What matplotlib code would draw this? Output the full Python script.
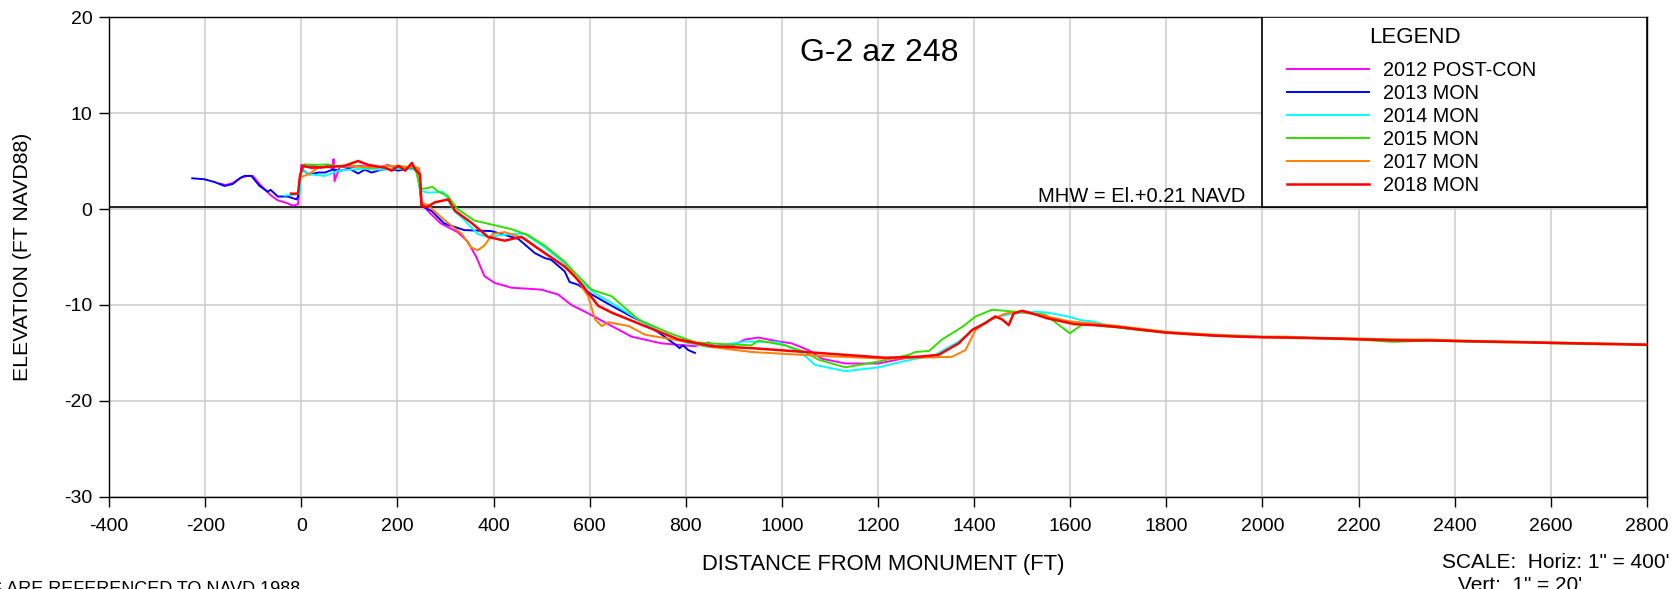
import matplotlib.pyplot as plt
from matplotlib.patches import Rectangle

plt.rcParams['font.family'] = ['Liberation Sans', 'DejaVu Sans']
plt.rcParams['axes.unicode_minus'] = False

# Survey profiles, distance from monument (ft) vs elevation (ft NAVD88)
x_2012 = [-170, -157, -143, -125, -111, -101, -87, -63, -49, -35, -17, -7, -3, 0, 10, 25, 40, 55, 65, 67,
          69, 80, 100, 120, 140, 160, 180, 200, 215, 230, 245, 250, 263, 290, 325, 346, 364, 381, 402, 437,
          499, 534, 562, 590, 646, 687, 749, 819, 847, 860, 895, 923, 951, 993, 1020, 1055, 1083, 1132, 1201, 1250,
          1280]
z_2012 = [2.65, 2.5, 2.7, 3.3, 3.45, 3.45, 2.6, 1.4, 0.9, 0.7, 0.35, 0.5, 2.5, 4.6, 4.4, 4.5, 4.3, 4.5, 4.2, 5.2,
          2.9, 4.4, 4.3, 4.5, 4.4, 4.3, 4.6, 4.2, 4.4, 4.3, 4.2, 0.7, -0.2, -1.5, -2.4, -3.4, -5.0, -7.0, -7.7, -8.2,
          -8.4, -8.9, -10.0, -10.7, -12.2, -13.3, -14.0, -14.3, -13.9, -14.3, -14.3, -13.6, -13.4, -13.8, -14.0, -14.7, -15.6, -16.1, -16.1, -15.6,
          -15.4]

x_2013 = [-227, -202, -180, -160, -143, -128, -118, -104, -87, -70, -64, -49, -28, -10, -7, 0, 17, 35, 49, 65,
          83, 100, 118, 132, 146, 167, 185, 202, 220, 230, 240, 247, 250, 271, 297, 339, 395, 451, 486, 506,
          520, 548, 558, 576, 604, 646, 687, 715, 750, 780, 787, 794, 805, 819]
z_2013 = [3.2, 3.1, 2.8, 2.4, 2.6, 3.2, 3.45, 3.45, 2.4, 1.8, 2.0, 1.3, 1.3, 1.0, 1.3, 4.1, 3.6, 3.8, 3.8, 4.1,
          4.0, 4.2, 3.7, 4.1, 3.8, 4.1, 4.2, 4.0, 4.2, 4.3, 4.0, 2.2, 0.3, -0.2, -1.5, -2.2, -2.3, -3.1, -4.6, -5.1,
          -5.3, -6.5, -7.6, -7.9, -8.9, -10.1, -11.2, -11.9, -13.1, -14.2, -14.5, -14.2, -14.7, -15.0]

x_2014 = [-35, -14, -3, 0, 21, 49, 77, 100, 130, 160, 200, 240, 247, 264, 295, 306, 318, 334, 367, 388,
          437, 465, 506, 548, 576, 611, 646, 701, 750, 799, 848, 924, 994, 1041, 1069, 1132, 1201, 1250, 1319, 1368,
          1403, 1437, 1479, 1528, 1553, 1595, 1623, 1644, 1693, 1750, 1800, 1850, 1900, 1950, 2000, 2050, 2100, 2150, 2200, 2250,
          2300, 2350, 2400, 2450, 2500, 2550, 2600, 2650, 2700, 2750, 2800]
z_2014 = [1.4, 1.5, 1.6, 4.0, 3.6, 3.45, 4.0, 4.1, 4.2, 4.1, 4.2, 4.1, 1.9, 1.7, 1.8, 0.9, -0.2, -0.9, -2.6, -2.9,
          -2.6, -2.6, -4.0, -5.7, -7.4, -8.8, -9.8, -11.5, -12.9, -13.9, -14.4, -13.8, -13.9, -15.0, -16.25, -16.9, -16.5, -15.9, -15.2, -13.8,
          -12.4, -11.4, -10.9, -10.7, -10.8, -11.2, -11.6, -11.7, -12.3, -12.6, -12.85, -13.0, -13.15, -13.2, -13.3, -13.35, -13.4, -13.45, -13.55, -13.6,
          -13.7, -13.65, -13.75, -13.8, -13.85, -13.85, -13.95, -14.0, -14.05, -14.05, -14.1]

x_2015 = [2, 7, 30, 56, 80, 110, 140, 170, 200, 237, 247, 254, 273, 285, 304, 325, 360, 437, 471, 506,
          548, 576, 604, 646, 701, 764, 820, 882, 937, 951, 1006, 1048, 1076, 1132, 1201, 1264, 1278, 1306, 1333, 1375,
          1403, 1437, 1486, 1548, 1599, 1623, 1650, 1700, 1750, 1800, 1850, 1900, 1950, 2000, 2050, 2100, 2150, 2200, 2270, 2350,
          2400, 2450, 2500, 2550, 2600, 2650, 2700, 2750, 2800]
z_2015 = [4.0, 4.65, 4.6, 4.65, 4.4, 4.5, 4.3, 4.4, 4.5, 4.3, 2.2, 2.1, 2.3, 1.8, 1.4, 0.0, -1.2, -2.1, -2.7, -3.8,
          -5.5, -7.0, -8.4, -9.1, -11.5, -12.9, -13.9, -14.1, -14.2, -13.7, -14.2, -14.9, -15.7, -16.5, -15.9, -15.2, -14.9, -14.8, -13.6, -12.3,
          -11.2, -10.5, -10.7, -11.0, -12.95, -12.1, -12.1, -12.35, -12.65, -12.9, -13.05, -13.2, -13.3, -13.35, -13.4, -13.45, -13.55, -13.6, -13.85, -13.7,
          -13.8, -13.85, -13.9, -13.9, -14.0, -14.05, -14.1, -14.1, -14.2]

x_2017 = [3, 14, 35, 60, 90, 120, 150, 180, 210, 244, 250, 264, 299, 334, 353, 367, 381, 398, 423, 465,
          527, 562, 597, 611, 625, 639, 681, 715, 785, 855, 937, 1076, 1215, 1354, 1382, 1403, 1431, 1465, 1493, 1535,
          1597, 1650, 1700, 1750, 1800, 1850, 1900, 1950, 2000, 2050, 2100, 2150, 2200, 2250, 2300, 2350, 2400, 2450, 2500, 2550,
          2600, 2650, 2700, 2750, 2800]
z_2017 = [3.4, 3.6, 4.3, 4.4, 4.5, 4.4, 4.3, 4.5, 4.4, 4.3, 0.7, 0.35, -1.2, -2.6, -4.0, -4.3, -3.8, -2.6, -2.4, -3.1,
          -5.3, -6.5, -9.1, -11.5, -12.2, -11.8, -12.2, -13.1, -13.7, -14.4, -14.9, -15.3, -15.6, -15.4, -14.7, -12.6, -11.6, -10.9, -10.7, -11.0,
          -11.7, -11.95, -12.2, -12.5, -12.8, -12.95, -13.1, -13.2, -13.3, -13.3, -13.4, -13.45, -13.5, -13.55, -13.6, -13.6, -13.7, -13.75, -13.8, -13.85,
          -13.9, -13.95, -14.0, -14.05, -14.1]

x_2018 = [-21, -7, -3, 3, 21, 60, 90, 118, 139, 174, 188, 202, 216, 230, 237, 247, 250, 261, 278, 306,
          320, 353, 388, 423, 458, 492, 548, 576, 618, 646, 715, 785, 855, 937, 1076, 1215, 1284, 1326, 1368, 1396,
          1423, 1444, 1458, 1472, 1482, 1500, 1528, 1553, 1609, 1650, 1700, 1750, 1800, 1850, 1900, 1950, 2000, 2050, 2100, 2150,
          2200, 2250, 2300, 2350, 2400, 2450, 2500, 2550, 2600, 2650, 2700, 2750, 2800]
z_2018 = [1.6, 1.6, 3.4, 4.5, 4.3, 4.4, 4.5, 5.0, 4.6, 4.3, 4.0, 4.5, 4.0, 4.8, 4.1, 3.6, 0.3, 0.2, 0.7, 1.0,
          -0.2, -1.4, -2.9, -3.3, -2.9, -4.1, -6.0, -7.4, -10.1, -10.8, -12.2, -13.6, -14.3, -14.5, -15.0, -15.5, -15.4, -15.2, -14.0, -12.6,
          -11.9, -11.2, -11.5, -12.1, -10.9, -10.6, -11.0, -11.4, -12.0, -12.1, -12.3, -12.6, -12.88, -13.05, -13.2, -13.3, -13.37, -13.4, -13.45, -13.5,
          -13.58, -13.65, -13.7, -13.7, -13.75, -13.8, -13.85, -13.9, -13.95, -14.0, -14.05, -14.1, -14.15]

labels = ['2012 POST-CON', '2013 MON', '2014 MON', '2015 MON', '2017 MON', '2018 MON']
colors = ['#ff00ff', '#0000ff', '#00ffff', '#33dd00', '#ff8000', '#ff0000']
widths = [1.4, 1.4, 1.4, 1.4, 1.4, 1.8]

x_ticks = list(range(-400, 2801, 200))
y_ticks = [-30, -20, -10, 0, 10, 20]
MHW = 0.21

fig = plt.figure(figsize=(16.79, 5.89), dpi=100)
ax = fig.add_axes([0.0650, 0.1564, 0.9159, 0.8146])

ax.set_xlim(-400, 2800)
ax.set_ylim(-30, 20)
ax.set_xticks(x_ticks)
ax.set_yticks(y_ticks)
ax.grid(True, color='#cccccc', linewidth=1.1)
ax.set_axisbelow(True)
ax.tick_params(direction='out', length=7, width=1, labelsize=14)
ax.tick_params(axis='x', pad=8)
ax.tick_params(axis='y', pad=5)
for s in ax.spines.values():
    s.set_linewidth(1)

# MHW reference line
ax.axhline(MHW, color='black', linewidth=1.2, zorder=3)

series = [(x_2012, z_2012), (x_2013, z_2013), (x_2014, z_2014),
          (x_2015, z_2015), (x_2017, z_2017), (x_2018, z_2018)]
for (x, z), lab, c, w in zip(series, labels, colors, widths):
    ax.plot(x, z, color=c, linewidth=w, label=lab, zorder=4)

# legend box in upper right corner
box = Rectangle((0.75, (MHW + 30) / 50), 0.25, 1 - (MHW + 30) / 50, transform=ax.transAxes,
                facecolor='white', edgecolor='black', linewidth=1.2, zorder=5)
ax.add_patch(box)
ax.text(0.8493, 0.958, 'LEGEND', transform=ax.transAxes, ha='center', va='center',
        fontsize=16, zorder=6)
leg = ax.legend(loc='upper left', bbox_to_anchor=(0.766, 0.908), frameon=False, fontsize=14.3,
                handlelength=4.1, handletextpad=0.75, labelspacing=0.195, borderpad=0,
                borderaxespad=0)
leg.set_zorder(6)

ax.text(1202, 16.26, 'G-2 az 248', ha='center', va='center', fontsize=23)
ax.text(0.7386, 0.6146, 'MHW = El.+0.21 NAVD', transform=ax.transAxes, ha='right',
        va='baseline', fontsize=14.5)

fig.text(0.0135, 0.5637, 'ELEVATION (FT NAVD88)', rotation=90, ha='center', va='center', fontsize=15.3)
fig.text(0.5258, 0.0424, 'DISTANCE FROM MONUMENT (FT)', ha='center', va='center', fontsize=15.8)
fig.text(0.8588, 0.0458, 'SCALE:  Horiz: 1" = 400\'', ha='left', va='center', fontsize=15)
fig.text(0.8684, 0.006, 'Vert:  1" = 20\'', ha='left', va='center', fontsize=15)
fig.text(0.179, 0.0, 'ELEVATIONS ARE REFERENCED TO NAVD 1988', ha='right', va='center', fontsize=13)

fig.savefig('out.png', dpi=100)
